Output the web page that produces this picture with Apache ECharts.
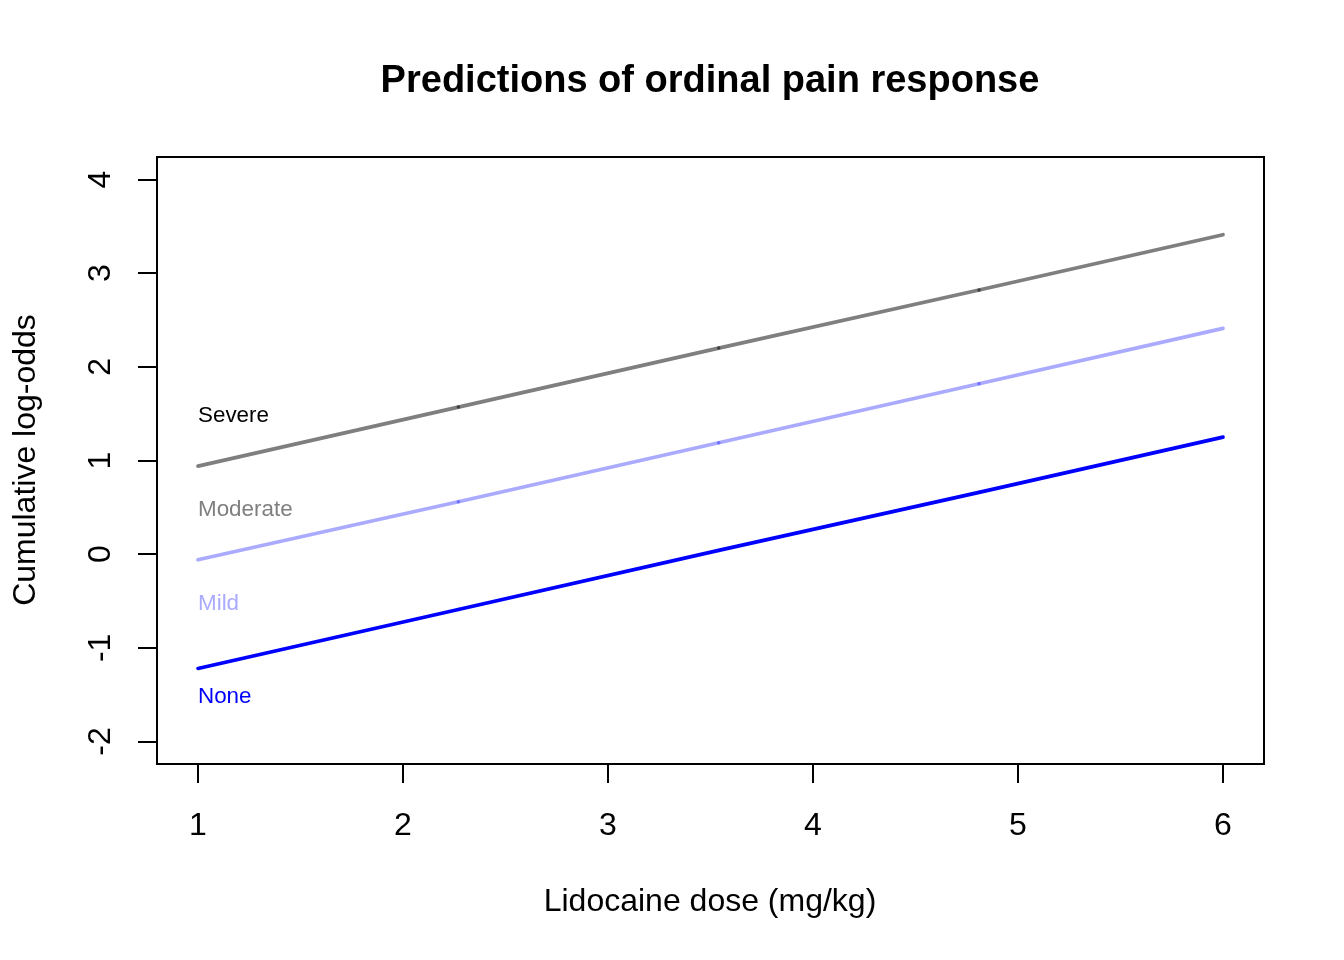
<!DOCTYPE html>
<html>
<head>
<meta charset="utf-8">
<script src="https://cdn.jsdelivr.net/npm/echarts@6/dist/echarts.min.js"></script>
<style>html,body{margin:0;padding:0;background:#fff;}#c{width:1344px;height:960px;}</style>
</head>
<body>
<div id="c"></div>
<script>
// Data
var doses = [1, 2.27, 3.54, 4.81, 6];
var severeModerateLine = [0.94, 1.57, 2.20, 2.82, 3.41];
var moderateMildLine = [-0.06, 0.56, 1.19, 1.82, 2.41];
var mildNoneLine = [-1.22, -0.59, 0.04, 0.66, 1.25];
var categoryNames = ['Severe', 'Moderate', 'Mild', 'None'];
var categoryLabelY = [1.5, 0.5, -0.5, -1.5];
var categoryLabelX = 1;
var xTicks = [1, 2, 3, 4, 5, 6];
var yTicks = [-2, -1, 0, 1, 2, 3, 4];

var FONT = 'Liberation Sans';
var labelColors = ['#000000', '#7f7f7f', '#aaaaff', '#0000ff'];

function lineData(vals, jointColor) {
  return doses.map(function (d, i) {
    var end = (i === 0 || i === doses.length - 1);
    return {
      value: [d, vals[i]],
      symbolSize: end ? 0 : 3.5,
      itemStyle: { color: jointColor, opacity: 1 }
    };
  });
}

function lineSeries(name, vals, color, jointColor) {
  return {
    name: name,
    type: 'line',
    data: lineData(vals, jointColor),
    symbol: 'circle',
    showAllSymbol: true,
    lineStyle: { color: color, width: 3.7, cap: 'round', opacity: 1 },
    itemStyle: { color: jointColor, borderWidth: 0, opacity: 1 },
    emphasis: { disabled: true },
    silent: true,
    z: 3
  };
}

var labelSeries = {
  type: 'scatter',
  symbolSize: 0,
  silent: true,
  itemStyle: { opacity: 1 },
  emphasis: { disabled: true },
  data: categoryNames.map(function (n, i) {
    return {
      name: n,
      value: [categoryLabelX, categoryLabelY[i]],
      itemStyle: { opacity: 1 },
      label: {
        show: true,
        position: 'right',
        distance: 0,
        offset: [0, 2.5],
        formatter: n,
        color: labelColors[i],
        opacity: 1,
        fontFamily: FONT,
        fontSize: 22.4
      }
    };
  }),
  z: 4
};

var chart = echarts.init(document.getElementById('c'), null, { renderer: 'canvas' });
chart.setOption({
  animation: false,
  backgroundColor: '#ffffff',
  grid: {
    left: 157, right: 80, top: 157, bottom: 196,
    show: true, borderColor: '#000', borderWidth: 2, backgroundColor: 'transparent'
  },
  xAxis: {
    type: 'value', min: 0.8, max: 6.2,
    axisLine: { show: false, onZero: false },
    splitLine: { show: false },
    axisTick: { show: true, inside: false, length: 19, customValues: xTicks, lineStyle: { color: '#000', width: 2 } },
    axisLabel: { customValues: xTicks, margin: 46, color: '#000', fontFamily: FONT, fontSize: 32 }
  },
  yAxis: {
    type: 'value', min: -2.24, max: 4.24,
    axisLine: { show: false, onZero: false },
    splitLine: { show: false },
    axisTick: { show: true, inside: false, length: 19, customValues: yTicks, lineStyle: { color: '#000', width: 2 } },
    axisLabel: { customValues: yTicks, margin: 40, rotate: 90, color: '#000', fontFamily: FONT, fontSize: 32 }
  },
  graphic: [
    { type: 'text', style: { x: 710, y: 82, text: 'Predictions of ordinal pain response', textAlign: 'center', textVerticalAlign: 'middle', fontFamily: FONT, fontSize: 38, fontWeight: 'bold', fill: '#000' } },
    { type: 'text', style: { x: 710, y: 902, text: 'Lidocaine dose (mg/kg)', textAlign: 'center', textVerticalAlign: 'middle', fontFamily: FONT, fontSize: 32, fill: '#000' } },
    { type: 'text', x: 26, y: 460, rotation: Math.PI / 2, style: { x: 0, y: 0, text: 'Cumulative log-odds', textAlign: 'center', textVerticalAlign: 'middle', fontFamily: FONT, fontSize: 32, fill: '#000' } }
  ],
  series: [
    lineSeries('Severe/Moderate', severeModerateLine, '#7f7f7f', '#404040'),
    lineSeries('Moderate/Mild', moderateMildLine, '#aaaaff', '#7171ff'),
    lineSeries('Mild/None', mildNoneLine, '#0000ff', '#0000ff'),
    labelSeries
  ]
});
</script>
</body>
</html>
